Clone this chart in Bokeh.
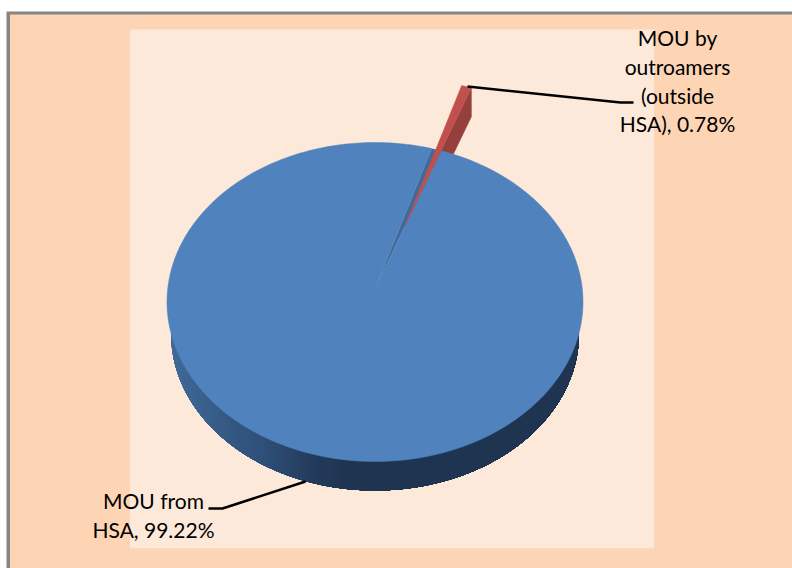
import numpy as np
from bokeh.embed import file_html
from bokeh.models import Range1d
from bokeh.plotting import figure
from bokeh.resources import INLINE
from bokeh.core.properties import value

categories = ["MOU from HSA", "MOU by outroamers (outside HSA)"]
shares = [99.22, 0.78]
label_lines_hsa = ["MOU from", "HSA, 99.22%"]
label_lines_out = ["MOU by", "outroamers", "(outside", "HSA), 0.78%"]

W, H = 792, 568
p = figure(width=W, height=H, x_range=Range1d(0, W), y_range=Range1d(H, 0),
           output_backend="svg", toolbar_location=None, min_border=0, outline_line_color=None)
p.axis.visible = False
p.grid.visible = False
p.background_fill_color = "#ffffff"
p.border_fill_color = "#ffffff"

# frame and panels
p.quad(left=6, right=W, top=11, bottom=H, fill_color="#868686", line_color=None)
p.quad(left=9.5, right=W, top=14, bottom=H, fill_color="#fdd4b4", line_color=None)
p.quad(left=129.5, right=653.5, top=29, bottom=547.7, fill_color="#fde9da", line_color=None)

# pie geometry
cx, cy, rx, ry = 374.5, 301.5, 208.0, 159.5
by0, brx, bry = 333.0, 204.0, 157.0
depth = 29.0
apex = (375.0, 287.0)
off = (30.0, -63.0)
start = 74.2
sweep_red = shares[1] / sum(shares) * 360.0
t_l, t_r = start, start - sweep_red


def arc(a, b, n=360):
    t = np.radians(np.linspace(a, b, n))
    return cx + rx * np.cos(t), cy - ry * np.sin(t)


# side wall of the main slice: overlapping layers, left to right, for the shading
stops_x = [170, 260, 310, 345, 583]
stops_c = np.array([[64, 106, 152], [47, 80, 120], [36, 60, 92], [31, 52, 80], [31, 52, 80]], float)
for a in np.linspace(180, 300, 100):
    t = np.radians(np.linspace(a, 360, 200))
    wx = cx + brx * np.cos(t)
    wy = by0 - bry * np.sin(t)
    c = [int(np.interp(wx[0], stops_x, stops_c[:, k])) for k in range(3)]
    col = "#%02x%02x%02x" % tuple(c)
    p.patch([wx[0], *wx], [by0, *wy], fill_color=col, line_color=None)

# exploded slice wall (partly hidden by the main slice)
xr, yr = arc(t_l, t_r, 20)
ax, ay = apex[0] + off[0], apex[1] + off[1]
ox, oy = xr + off[0], yr + off[1]
p.patch([ox[-1], ox[-1], ax, ax], [oy[-1], oy[-1] + depth, ay + depth, ay],
        fill_color="#96403d", line_color="#96403d", line_width=0.5)

# gap behind the exploded slice
gx, gy = arc(t_l, t_r, 20)
p.patch([apex[0], *gx], [apex[1], *gy], fill_color="#3f6a9b", line_color=None)

# top of main slice
bx, by = arc(t_r, t_r - shares[0] / sum(shares) * 360.0)
p.patch([apex[0], *bx], [apex[1], *by], fill_color="#5082be", line_color="#5082be", line_width=0.5)

# top of exploded slice
p.patch([ax, *ox], [ay, *oy], fill_color="#c0504d", line_color="#c0504d", line_width=0.5)

# leaders
p.line([467, 620, 633], [86, 102, 102], line_color="#000000", line_width=2.5)
p.line([305, 222, 208], [481, 508, 508], line_color="#000000", line_width=2.5)

font = value("Lato")
p.text([677] * 4, [37, 66, 95, 123], text=label_lines_out, text_font=font, text_font_size="21px",
       text_align="center", text_baseline="middle", text_color="#000000")
p.text([153] * 2, [500, 529], text=label_lines_hsa, text_font=font, text_font_size="21px",
       text_align="center", text_baseline="middle", text_color="#000000")

open("out.html", "w").write(file_html(p, INLINE))
